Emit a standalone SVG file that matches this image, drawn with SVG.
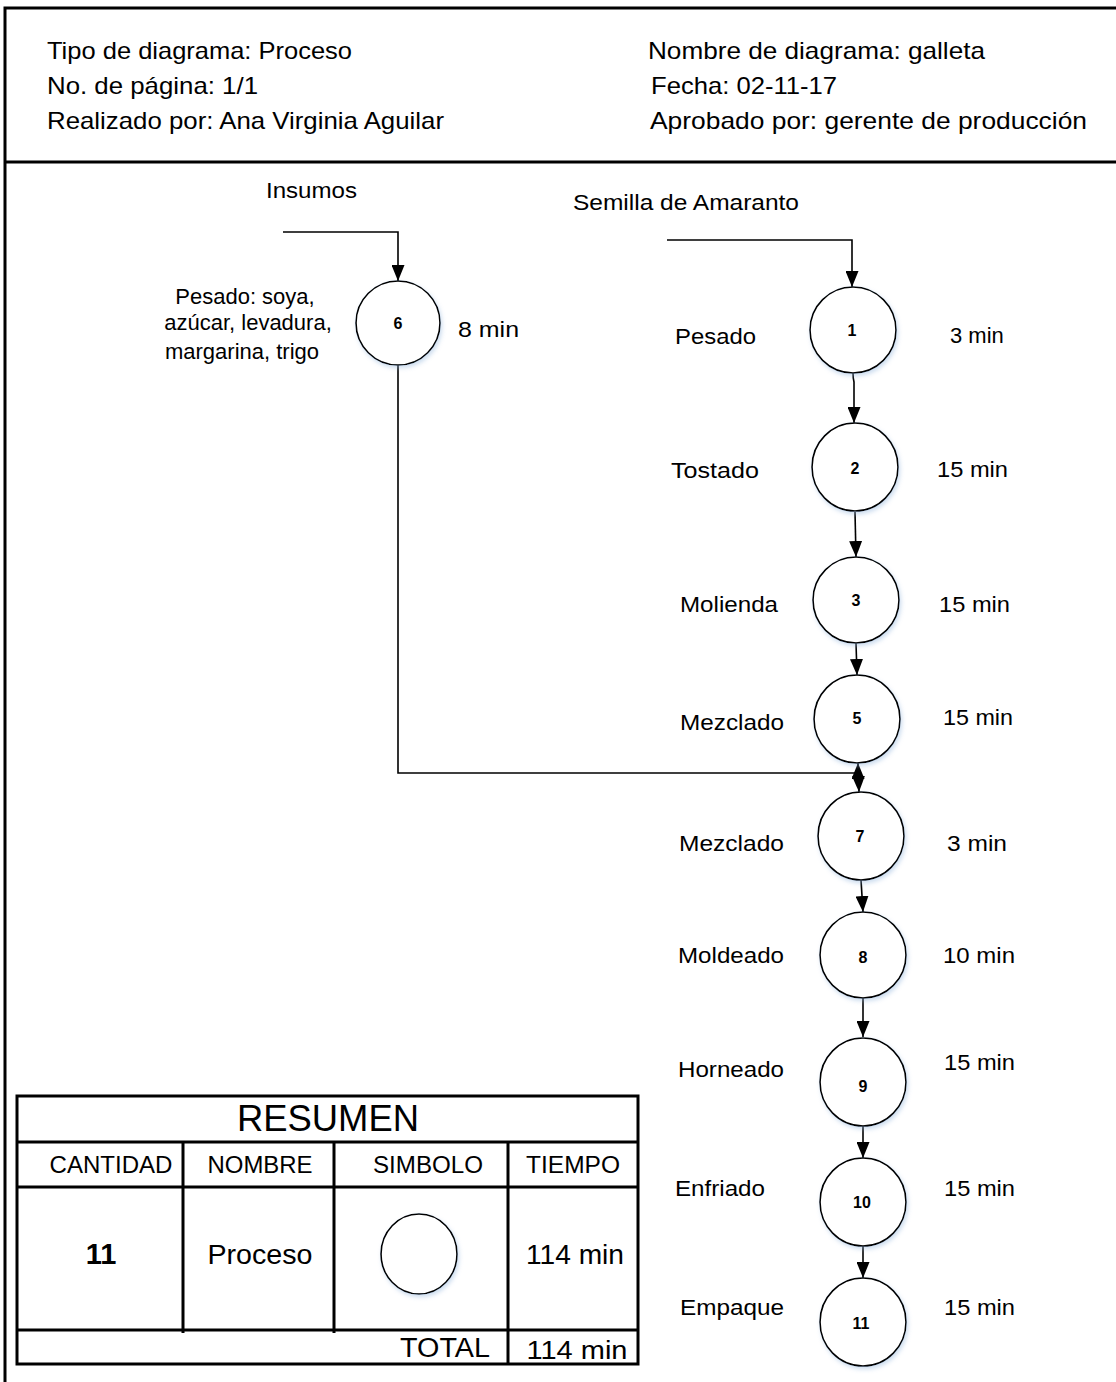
<svg xmlns="http://www.w3.org/2000/svg" width="1116" height="1382" viewBox="0 0 1116 1382">
<style>
.hdr{font-family:"Liberation Sans",Arial,sans-serif;font-size:24px;fill:#000}
.lbl{font-family:"Liberation Sans",Arial,sans-serif;font-size:22px;fill:#000}
.num{font-family:"Liberation Sans",Arial,sans-serif;font-size:16px;font-weight:bold;fill:#000;text-anchor:middle}
.node{fill:#fff;stroke:#000;stroke-width:1.6;filter:url(#sh)}
.conn{fill:none;stroke:#000;stroke-width:1.6;marker-end:url(#arr)}
.frame{fill:none;stroke:#000;stroke-width:3}
.tline{fill:none;stroke:#000;stroke-width:3}
.tt{font-family:"Liberation Sans",Arial,sans-serif;fill:#000;text-anchor:middle}
</style>
<defs>
<marker id="arr" markerUnits="userSpaceOnUse" markerWidth="16" markerHeight="13" refX="16" refY="6.5" orient="auto">
<path d="M0,0 L16,6.5 L0,13 z" fill="#000"/>
</marker>
<filter id="sh" x="-20%" y="-20%" width="150%" height="150%">
<feDropShadow dx="1.5" dy="2.5" stdDeviation="2" flood-color="#8fb3dc" flood-opacity="0.45"/>
</filter>
</defs>
<rect width="1116" height="1382" fill="#fff"/>

<g id="frame">
<path class="frame" d="M5,1382 V8 H1116"/>
<path class="frame" d="M5,162 H1116"/>
</g>

<g id="header">
<text class="hdr" x="47" y="59" textLength="305" lengthAdjust="spacingAndGlyphs">Tipo de diagrama: Proceso</text>
<text class="hdr" x="47" y="94" textLength="211" lengthAdjust="spacingAndGlyphs">No. de página: 1/1</text>
<text class="hdr" x="47" y="129" textLength="397" lengthAdjust="spacingAndGlyphs">Realizado por: Ana Virginia Aguilar</text>
<text class="hdr" x="648" y="59" textLength="337" lengthAdjust="spacingAndGlyphs">Nombre de diagrama: galleta</text>
<text class="hdr" x="651" y="94" textLength="186" lengthAdjust="spacingAndGlyphs">Fecha: 02-11-17</text>
<text class="hdr" x="650" y="129" textLength="437" lengthAdjust="spacingAndGlyphs">Aprobado por: gerente de producción</text>
</g>

<g id="inputs">
<text class="lbl" x="266" y="198" textLength="91" lengthAdjust="spacingAndGlyphs">Insumos</text>
<text class="lbl" x="573" y="210" textLength="226" lengthAdjust="spacingAndGlyphs">Semilla de Amaranto</text>
</g>

<g id="connectors">
<path class="conn" d="M283,232 H398 V281"/>
<path class="conn" d="M667,240 H852 V287"/>
<path class="conn" d="M853,373 Q853,378 854,382 V423"/>
<path class="conn" d="M855,512 L856,557"/>
<path class="conn" d="M856,643 L857,675"/>
<path class="conn" d="M398,365 V773 H858 V763"/>
<path class="conn" d="M858,763 L859,792"/>
<path class="conn" d="M861,880 L863,912"/>
<path class="conn" d="M863,998 V1037"/>
<path class="conn" d="M863,1126 V1158"/>
<path class="conn" d="M863,1246 V1278"/>
</g>

<g id="n6">
<ellipse class="node" cx="398" cy="323" rx="42" ry="42"/>
<text class="num" x="398" y="329">6</text>
<text class="lbl" x="245" y="304" text-anchor="middle">Pesado: soya,</text>
<text class="lbl" x="248" y="330" text-anchor="middle">azúcar, levadura,</text>
<text class="lbl" x="242" y="359" text-anchor="middle">margarina, trigo</text>
<text class="lbl" x="458" y="337" textLength="61" lengthAdjust="spacingAndGlyphs">8 min</text>
</g>

<g id="n1">
<ellipse class="node" cx="853" cy="330" rx="43" ry="43"/>
<text class="num" x="852" y="336">1</text>
<text class="lbl" x="675" y="344" textLength="81" lengthAdjust="spacingAndGlyphs">Pesado</text>
<text class="lbl" x="950" y="343">3 min</text>
</g>

<g id="n2">
<ellipse class="node" cx="855" cy="467" rx="43" ry="44"/>
<text class="num" x="855" y="474">2</text>
<text class="lbl" x="671" y="478" textLength="88" lengthAdjust="spacingAndGlyphs">Tostado</text>
<text class="lbl" x="937" y="477" textLength="71" lengthAdjust="spacingAndGlyphs">15 min</text>
</g>

<g id="n3">
<ellipse class="node" cx="856" cy="600" rx="43" ry="43"/>
<text class="num" x="856" y="606">3</text>
<text class="lbl" x="680" y="612" textLength="98" lengthAdjust="spacingAndGlyphs">Molienda</text>
<text class="lbl" x="939" y="612" textLength="71" lengthAdjust="spacingAndGlyphs">15 min</text>
</g>

<g id="n5">
<ellipse class="node" cx="857" cy="719" rx="43" ry="44"/>
<text class="num" x="857" y="724">5</text>
<text class="lbl" x="680" y="730" textLength="104" lengthAdjust="spacingAndGlyphs">Mezclado</text>
<text class="lbl" x="943" y="725" textLength="70" lengthAdjust="spacingAndGlyphs">15 min</text>
</g>

<g id="n7">
<ellipse class="node" cx="861" cy="836" rx="43" ry="44"/>
<text class="num" x="860" y="842">7</text>
<text class="lbl" x="679" y="851" textLength="105" lengthAdjust="spacingAndGlyphs">Mezclado</text>
<text class="lbl" x="947" y="851" textLength="60" lengthAdjust="spacingAndGlyphs">3 min</text>
</g>

<g id="n8">
<ellipse class="node" cx="863" cy="955" rx="43" ry="43"/>
<text class="num" x="863" y="963">8</text>
<text class="lbl" x="678" y="963" textLength="106" lengthAdjust="spacingAndGlyphs">Moldeado</text>
<text class="lbl" x="943" y="963" textLength="72" lengthAdjust="spacingAndGlyphs">10 min</text>
</g>

<g id="n9">
<ellipse class="node" cx="863" cy="1082" rx="43" ry="44"/>
<text class="num" x="863" y="1092">9</text>
<text class="lbl" x="678" y="1077" textLength="106" lengthAdjust="spacingAndGlyphs">Horneado</text>
<text class="lbl" x="944" y="1070" textLength="71" lengthAdjust="spacingAndGlyphs">15 min</text>
</g>

<g id="n10">
<ellipse class="node" cx="863" cy="1202" rx="43" ry="44"/>
<text class="num" x="862" y="1208">10</text>
<text class="lbl" x="675" y="1196" textLength="90" lengthAdjust="spacingAndGlyphs">Enfriado</text>
<text class="lbl" x="944" y="1196" textLength="71" lengthAdjust="spacingAndGlyphs">15 min</text>
</g>

<g id="n11">
<ellipse class="node" cx="863" cy="1322" rx="43" ry="44"/>
<text class="num" x="861" y="1329">11</text>
<text class="lbl" x="680" y="1315" textLength="104" lengthAdjust="spacingAndGlyphs">Empaque</text>
<text class="lbl" x="944" y="1315" textLength="71" lengthAdjust="spacingAndGlyphs">15 min</text>
</g>

<g id="resumen">
<rect class="tline" x="17" y="1096" width="621" height="268"/>
<path class="tline" d="M17,1142 H638 M17,1187 H638 M17,1330 H638"/>
<path class="tline" d="M183,1142 V1333 M334,1142 V1333 M508,1142 V1364"/>
<text class="tt" x="328" y="1131" font-size="36" textLength="182" lengthAdjust="spacingAndGlyphs">RESUMEN</text>
<text class="tt" x="111" y="1173" font-size="23" textLength="123" lengthAdjust="spacingAndGlyphs">CANTIDAD</text>
<text class="tt" x="260" y="1173" font-size="23" textLength="105" lengthAdjust="spacingAndGlyphs">NOMBRE</text>
<text class="tt" x="428" y="1173" font-size="23" textLength="110" lengthAdjust="spacingAndGlyphs">SIMBOLO</text>
<text class="tt" x="573" y="1173" font-size="23" textLength="94" lengthAdjust="spacingAndGlyphs">TIEMPO</text>
<text class="tt" x="101" y="1264" font-size="29" font-weight="bold">11</text>
<text class="tt" x="260" y="1264" font-size="28" textLength="105" lengthAdjust="spacingAndGlyphs">Proceso</text>
<ellipse cx="419" cy="1254" rx="38" ry="40" fill="#fff" stroke="#000" stroke-width="1.6" filter="url(#sh)"/>
<text class="tt" x="575" y="1264" font-size="28" textLength="98" lengthAdjust="spacingAndGlyphs">114 min</text>
<text class="tt" x="445" y="1357" font-size="27" textLength="90" lengthAdjust="spacingAndGlyphs">TOTAL</text>
<text class="tt" x="577" y="1359" font-size="26" textLength="101" lengthAdjust="spacingAndGlyphs">114 min</text>
</g>
</svg>
